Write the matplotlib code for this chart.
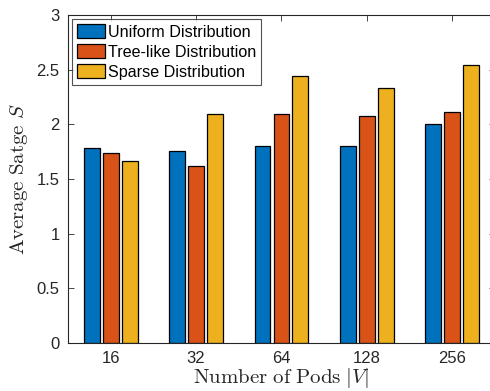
import matplotlib.pyplot as plt
import numpy as np
from matplotlib.ticker import FuncFormatter

plt.rcParams['mathtext.fontset'] = 'cm'
plt.rcParams['font.family'] = ['Liberation Sans', 'DejaVu Sans']

pods = ['16', '32', '64', '128', '256']
uniform = [1.78, 1.755, 1.805, 1.805, 2.00]
tree_like = [1.74, 1.62, 2.09, 2.075, 2.11]
sparse = [1.665, 2.09, 2.445, 2.33, 2.54]

series = [
    (uniform, 'Uniform Distribution', '#0072BD'),
    (tree_like, 'Tree-like Distribution', '#D95319'),
    (sparse, 'Sparse Distribution', '#EDB120'),
]

fig = plt.figure(figsize=(4.9, 3.91), dpi=100)
ax = fig.add_axes([0.1388, 0.1228, 0.871, 0.8389])

x = np.arange(1, len(pods) + 1)
offsets = [-0.222, 0.0, 0.222]
for (vals, name, col), off in zip(series, offsets):
    ax.bar(x + off, vals, width=0.185, color=col, edgecolor='black',
           linewidth=0.9, label=name, zorder=2)

ax.set_xlim(0.5, 5.5)
ax.set_ylim(0, 3)
ax.set_xticks(x)
ax.set_xticklabels(pods)
ax.set_yticks(np.arange(0, 3.01, 0.5))
ax.yaxis.set_major_formatter(FuncFormatter(lambda v, p: f'{v:g}'))

ax.tick_params(direction='in', top=True, right=True, length=4, width=0.6,
               colors='#262626', labelsize=12, pad=6)
for s in ax.spines.values():
    s.set_color('#262626')
    s.set_linewidth(0.8)

ax.set_xlabel(r'$\mathrm{Number\ of\ Pods}\ |V|$', fontsize=15,
              color='#262626', labelpad=0)
ax.set_ylabel(r'$\mathrm{Average\ Satge}\ S$', fontsize=15,
              color='#262626', labelpad=5)

leg = ax.legend(loc='upper left', fontsize=11.6, frameon=True, fancybox=False,
                edgecolor='#262626', borderpad=0.3, handlelength=1.75,
                handleheight=1.0, handletextpad=0.2, labelspacing=0.27,
                borderaxespad=0.25)
leg.get_frame().set_linewidth(0.8)

fig.savefig('out.png', dpi=100)
